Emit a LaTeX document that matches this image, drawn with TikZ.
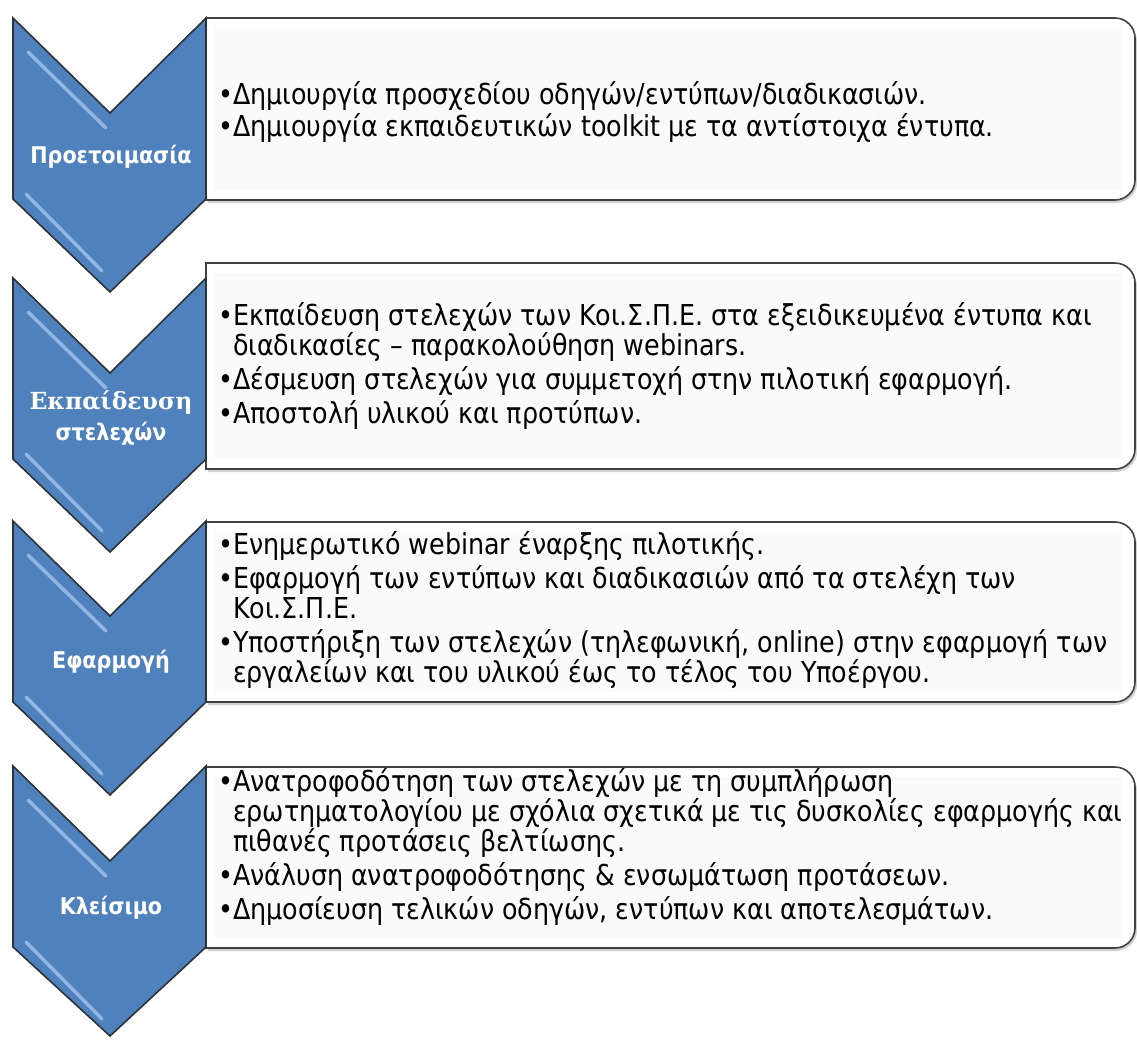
\documentclass[tikz,border=0pt]{standalone}
\usepackage{fontspec}
\newfontfamily\boxfont[FakeStretch=0.88]{DejaVu Sans}
\newfontfamily\lblfont[FakeStretch=0.9]{DejaVu Sans}
\newfontfamily\serlbl{DejaVu Serif}
\definecolor{chevblue}{HTML}{4F81BD}
\definecolor{chevhi}{HTML}{9CC0EA}
\definecolor{chevedge}{HTML}{2E3236}
\definecolor{boxedge}{HTML}{404040}
\definecolor{boxin}{HTML}{FAFAFA}
\tikzset{
  chevstyle/.style={fill=chevblue, draw=chevedge, line width=1.6pt, line join=miter},
  chevhl/.style={draw=chevhi, line width=3.5pt, line cap=round, opacity=0.85},
  boxstyle/.style={fill=white, draw=boxedge, line width=1.6pt},
  boxshadow/.style={fill=black, opacity=0.18},
  boxtext/.style={font=\fontsize{28.8}{30}\selectfont\boxfont, align=left, inner sep=0pt, text=black, anchor=west},
  lbl/.style={font=\fontsize{23}{30}\selectfont\lblfont\bfseries, text=white, inner sep=0pt},
  lblser/.style={font=\fontsize{23.5}{30}\selectfont\serlbl\bfseries, text=white, inner sep=0pt}
}
% #1 = top y, #2 = depth of the lower tip
\newcommand\drawchev[2]{%
  \path[chevstyle] (13,#1) -- (110,#1+95) -- (206,#1) -- (206,#1+181) -- (110,#1+181+#2) -- (13,#1+181) -- cycle;
  \draw[chevhl] (28,#1+34) -- (106,#1+110);
  \draw[chevhl] (26,#1+176) -- (102,#1+253);
}
\newcommand\drawbox[2]{%
  \path[boxshadow] (208,#1+3) -- (1115,#1+3) .. controls (1127,#1+3) and (1137,#1+12) .. (1137,#1+23) -- (1137,#2-17) .. controls (1137,#2-6) and (1127,#2+3) .. (1115,#2+3) -- (208,#2+3) -- cycle;
  \path[boxstyle] (206,#1) -- (1115,#1) .. controls (1126,#1) and (1135,#1+9) .. (1135,#1+20) -- (1135,#2-20) .. controls (1135,#2-9) and (1126,#2) .. (1115,#2) -- (206,#2) -- cycle;
  \fill[boxin] (214,#1+10) rectangle (1122,#2-10);
}
\begin{document}
\begin{tikzpicture}[x=1pt,y=-1pt]
\useasboundingbox (0,0) rectangle (1137,1039);
\fill[white] (0,0) rectangle (1137,1039);
% boxes
\drawbox{18}{200}
\drawbox{263}{469}
\drawbox{522}{702}
\drawbox{767}{948}
% chevrons
\drawchev{18}{93}
\drawchev{278}{93}
\drawchev{521}{93}
\drawchev{766}{89}
% labels
\node[lbl] (l1) at (111,157) {Προετοιμασία};
\node[lblser] (l2a) at (111,403) {Εκπαίδευση};
\node[lbl] (l2b) at (111,434) {στελεχών};
\node[lbl] (l3) at (111,662) {Εφαρμογή};
\node[lbl] (l4) at (111,908) {Κλείσιμο};
% texts
\node[boxtext] (t1) at (218,112) {•Δημιουργία προσχεδίου οδηγών/εντύπων/διαδικασιών.\\[2pt]•Δημιουργία εκπαιδευτικών toolkit με τα αντίστοιχα έντυπα.};
\node[boxtext] (t2) at (218,366) {•Εκπαίδευση στελεχών των Κοι.Σ.Π.Ε. στα εξειδικευμένα έντυπα και\\\hphantom{•}διαδικασίες – παρακολούθηση webinars.\\[4pt]•Δέσμευση στελεχών για συμμετοχή στην πιλοτική εφαρμογή.\\[4pt]•Αποστολή υλικού και προτύπων.};
\node[boxtext] (t3) at (218,610) {•Ενημερωτικό webinar έναρξης πιλοτικής.\\[4pt]•Εφαρμογή των εντύπων και διαδικασιών από τα στελέχη των\\\hphantom{•}Κοι.Σ.Π.Ε.\\[4pt]•Υποστήριξη των στελεχών (τηλεφωνική, online) στην εφαρμογή των\\\hphantom{•}εργαλείων και του υλικού έως το τέλος του Υποέργου.};
\node[boxtext] (t4) at (218,847) {•Ανατροφοδότηση των στελεχών με τη συμπλήρωση\\\hphantom{•}ερωτηματολογίου με σχόλια σχετικά με τις δυσκολίες εφαρμογής και\\\hphantom{•}πιθανές προτάσεις βελτίωσης.\\[4pt]•Ανάλυση ανατροφοδότησης \& ενσωμάτωση προτάσεων.\\[4pt]•Δημοσίευση τελικών οδηγών, εντύπων και αποτελεσμάτων.};
\end{tikzpicture}
\end{document}
